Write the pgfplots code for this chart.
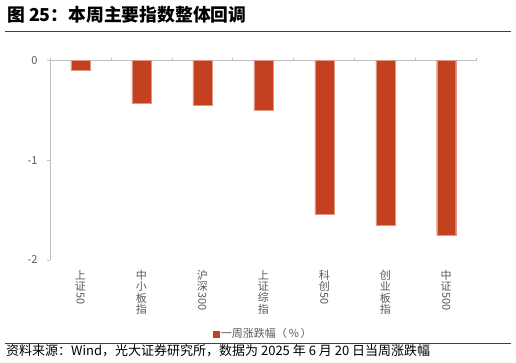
\documentclass[border=0pt]{standalone}
\usepackage{pgfplots}
\pgfplotsset{compat=1.18}
\usepackage{graphicx}
\usepackage{fontspec}
\setmainfont{Noto Sans CJK SC}
\definecolor{barred}{HTML}{C4411F}
\definecolor{axgray}{HTML}{BFBFBF}
\definecolor{txtgray}{HTML}{595959}
\newcommand{\rd}[1]{\raisebox{0.85em}{\rotatebox{-90}{#1}}}
\tikzset{lab/.style={anchor=north, inner sep=0pt, align=center, font=\fontsize{11}{11.3}\selectfont, text=txtgray, yshift=-10pt}}
\begin{document}
\begin{tikzpicture}
\useasboundingbox (0pt,0pt) rectangle (516pt,363pt);
\node[anchor=base west, inner sep=0, font=\fontsize{17.8}{20}\selectfont\bfseries] at (7pt,341pt) {图 25：本周主要指数整体回调};
\draw[color=black!75, line width=0.9pt] (5pt,331.5pt) -- (511pt,331.5pt);
\draw[color=black!75, line width=0.9pt] (5pt,20pt) -- (511pt,20pt);
\node[anchor=base west, inner sep=0, font=\fontsize{13}{15}\selectfont] at (6pt,7pt) {资料来源：Wind，光大证券研究所，数据为 2025 年 6 月 20 日当周涨跌幅};
\begin{axis}[at={(50pt,103pt)}, anchor=south west, scale only axis,
  width=426.7pt, height=199.3pt,
  xmin=-0.5, xmax=6.5, ymin=-2, ymax=0,
  axis y line*=left, axis x line*=top,
  axis line style={axgray, line width=0.8pt},
  tick style={axgray, line width=0.8pt},
  tick align=outside, major tick length=3pt,
  xtick={-0.5,0.5,1.5,2.5,3.5,4.5,5.5,6.5}, xticklabels={},
  ytick={-2,-1,0},
  /pgf/number format/assume math mode=true,
  yticklabel style={font=\fontsize{11}{13}\selectfont, text=txtgray, xshift=-6pt},
  legend style={at={(0.5,-0.371)}, anchor=center, draw=none, fill=none,
    font=\fontsize{11}{13}\selectfont, text=txtgray, inner sep=0pt},
  legend image code/.code={\fill[barred] (0pt,-2.8pt) rectangle (5.6pt,2.8pt);},
  clip=false]
\addplot[ybar, bar width=19pt, fill=barred, draw=barred!55!white, line width=0.4pt]
  coordinates {(0,-0.10) (1,-0.43) (2,-0.45) (3,-0.50) (4,-1.54) (5,-1.65) (6,-1.75)};
\addlegendentry{一周涨跌幅（\,\%\,）}
\node[lab] at (axis cs:0,-2) {上\\证\\\rd{50}};
\node[lab] at (axis cs:1,-2) {中\\小\\板\\指};
\node[lab] at (axis cs:2,-2) {沪\\深\\\rd{300}};
\node[lab] at (axis cs:3,-2) {上\\证\\综\\指};
\node[lab] at (axis cs:4,-2) {科\\创\\\rd{50}};
\node[lab] at (axis cs:5,-2) {创\\业\\板\\指};
\node[lab] at (axis cs:6,-2) {中\\证\\\rd{500}};
\end{axis}
\end{tikzpicture}
\end{document}
